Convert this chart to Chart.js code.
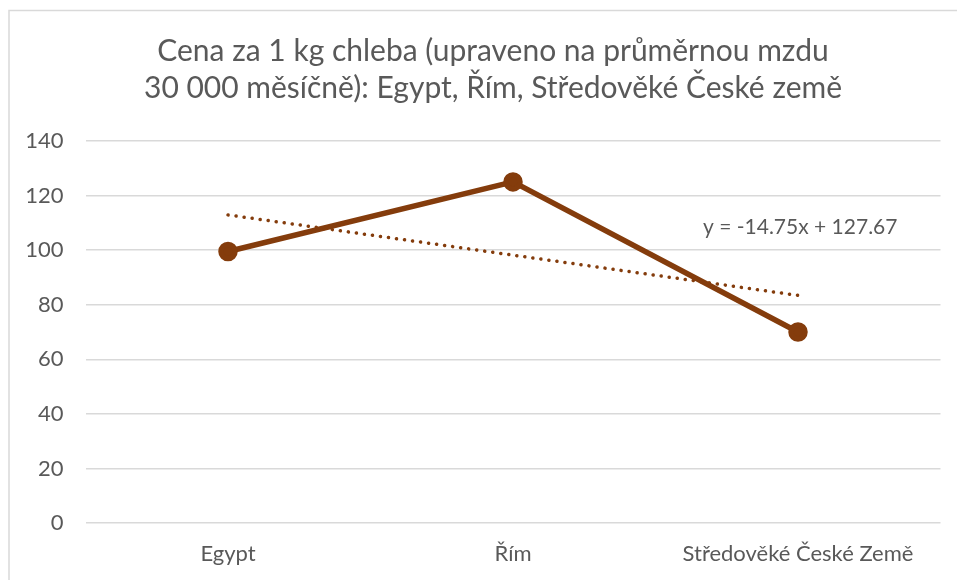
<!DOCTYPE html>
<html>
<head>
<meta charset="utf-8">
<script src="https://cdn.jsdelivr.net/npm/chart.js@4.4.1/dist/chart.umd.min.js"></script>
<style>
html,body{margin:0;padding:0;background:#fff;}
#wrap{width:957px;height:580px;position:relative;}
</style>
</head>
<body>
<div id="wrap"><canvas id="c" width="957" height="580"></canvas></div>
<script>
const categories = ["Egypt", "Řím", "Středověké České Země"];
const prices = [99.5, 125, 70];
const trendSlope = -14.75;
const trendIntercept = 127.67;
const trendLabel = "y = -14.75x + 127.67";
const titleLines = ["Cena za 1 kg chleba (upraveno na průměrnou mzdu", "30 000 měsíčně): Egypt, Řím, Středověké České země"];
const yTicks = [0, 20, 40, 60, 80, 100, 120, 140];

const trendValues = categories.map((c, i) => trendIntercept + trendSlope * (i + 1));

const FONT = "Lato, 'Open Sans', sans-serif";
const BROWN = "#843C0C";
const TEXT = "#595959";

const decor = {
  id: "decor",
  beforeDraw(chart) {
    const ctx = chart.ctx;
    ctx.save();
    ctx.fillStyle = "#fff";
    ctx.fillRect(0, 0, chart.width, chart.height);
    ctx.strokeStyle = "#d9d9d9";
    ctx.lineWidth = 1.5;
    ctx.beginPath();
    ctx.moveTo(9, chart.height);
    ctx.lineTo(9, 10.5);
    ctx.lineTo(chart.width, 10.5);
    ctx.stroke();
    ctx.restore();
  },
  afterDraw(chart) {
    const ctx = chart.ctx;
    ctx.save();
    ctx.fillStyle = TEXT;
    ctx.font = "30px " + FONT;
    ctx.textAlign = "center";
    ctx.textBaseline = "middle";
    const cx = 493;
    ctx.fillText(titleLines[0], cx, 51);
    ctx.fillText(titleLines[1], cx, 88);
    ctx.font = "21px " + FONT;
    ctx.textAlign = "left";
    ctx.fillText(trendLabel, 703, 227);
    ctx.restore();
  }
};

new Chart(document.getElementById("c"), {
  type: "line",
  data: {
    labels: categories,
    datasets: [
      {
        label: "Trend",
        data: trendValues,
        borderColor: BROWN,
        borderWidth: 3.5,
        borderDash: [0.1, 8],
        borderCapStyle: "round",
        pointRadius: 0,
        fill: false,
        tension: 0
      },
      {
        label: "Cena",
        data: prices,
        borderColor: BROWN,
        backgroundColor: BROWN,
        borderWidth: 5.5,
        pointRadius: 7,
        pointBackgroundColor: BROWN,
        pointBorderColor: BROWN,
        fill: false,
        tension: 0
      }
    ]
  },
  options: {
    responsive: false,
    animation: false,
    layout: { padding: { left: 0, right: 16.5, top: 141, bottom: 0 } },
    plugins: { legend: { display: false }, title: { display: false }, tooltip: { enabled: false } },
    scales: {
      x: {
        offset: true,
        grid: { display: false, drawTicks: false },
        border: { display: false },
        ticks: { color: TEXT, font: { family: FONT, size: 22 }, padding: 18, maxRotation: 0 },
        afterFit(s) { s.height = 57; }
      },
      y: {
        min: 0, max: 140,
        afterBuildTicks(s) { s.ticks = yTicks.map(v => ({ value: v })); },
        grid: { color: "#d9d9d9", lineWidth: 1.5, drawTicks: false },
        border: { display: false },
        ticks: { color: TEXT, font: { family: FONT, size: 22 }, padding: 22 },
        afterFit(s) { s.width = 85.5; }
      }
    }
  },
  plugins: [decor]
});
</script>
</body>
</html>
